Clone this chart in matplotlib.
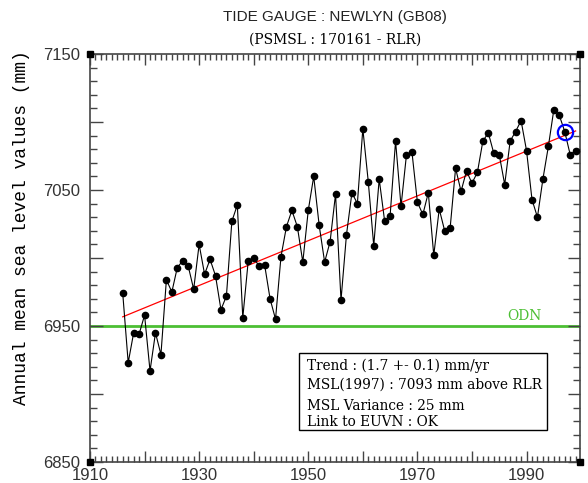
# Newlyn tide gauge, annual mean sea level (PSMSL RLR)

import numpy as np
import matplotlib.pyplot as plt
from matplotlib.patches import Rectangle
from matplotlib.ticker import MultipleLocator, FuncFormatter

years = np.arange(1916, 2000)
msl = [6974, 6923, 6945, 6944, 6958, 6917, 6945, 6929, 6984, 6975,
       6993, 6998, 6994, 6977, 7010, 6988, 6999, 6987, 6962, 6972,
       7027, 7039, 6956, 6998, 7000, 6994, 6995, 6970, 6955, 7001,
       7023, 7035, 7023, 6997, 7035, 7060, 7024, 6997, 7012, 7047,
       6969, 7017, 7048, 7040, 7095, 7056, 7009, 7058, 7027, 7031,
       7086, 7038, 7076, 7078, 7041, 7032, 7048, 7002, 7036, 7020,
       7022, 7066, 7049, 7064, 7055, 7063, 7086, 7092, 7077, 7076,
       7054, 7086, 7093, 7101, 7079, 7043, 7030, 7058, 7082, 7109,
       7105, 7093, 7076, 7079]
odn = 6950
ref_year = 1997
info = ['Trend : (1.7 +- 0.1) mm/yr',
        'MSL(1997) : 7093 mm above RLR',
        'MSL Variance : 25 mm',
        'Link to EUVN : OK']

axcol = '#444444'
green = '#4cbf33'

fig = plt.figure(figsize=(5.88, 4.83), dpi=100)
ax = fig.add_axes([90/588, 21/483, 490/588, 408/483])

# data + trend
msl = np.array(msl)
p = np.polyfit(years, msl, 1)
ax.axhline(odn, color=green, lw=2, zorder=1)
ax.plot(years, np.polyval(p, years), color='red', lw=0.9, zorder=2)
ax.plot(years, msl, '-', color='black', lw=0.8, zorder=3)
ax.plot(years, msl, 'o', color='black', ms=4.5, zorder=4)
i = list(years).index(ref_year)
ax.plot(years[i], msl[i], 'o', mfc='none', mec='blue', mew=1.6, ms=11, zorder=5)

ax.text(1989.6, odn + 2.5, 'ODN', color=green, family='DejaVu Serif',
        fontsize=10, ha='center', va='bottom')

# info box
ax.add_patch(Rectangle((0.4265, 0.078), 0.506, 0.189, transform=ax.transAxes,
                       fill=False, ec='black', lw=1, zorder=6))
for txt, yy in zip(info, [0.235, 0.189, 0.137, 0.098]):
    ax.text(0.443, yy, txt, transform=ax.transAxes, family='DejaVu Serif',
            fontsize=9.8, va='center', ha='left', zorder=7)

# axes, ticks
ax.set_xlim(1910, 1999.8)
ax.set_ylim(6850, 7150)
ax.xaxis.set_major_locator(MultipleLocator(10))
ax.xaxis.set_minor_locator(MultipleLocator(1))
ax.yaxis.set_major_locator(MultipleLocator(50))
ax.yaxis.set_minor_locator(MultipleLocator(10))
ax.xaxis.set_major_formatter(FuncFormatter(
    lambda v, pos: '%d' % v if round(v) % 20 == 10 else ''))
ax.yaxis.set_major_formatter(FuncFormatter(
    lambda v, pos: '%d' % v if round(v - 6850) % 100 == 0 else ''))
ax.tick_params(axis='x', which='both', direction='in', top=True, colors=axcol,
               labelcolor='#333333', labelsize=12, pad=4)
ax.tick_params(axis='x', which='major', length=8, width=1)
ax.tick_params(axis='x', which='minor', length=4, width=1)
ax.tick_params(axis='y', which='both', direction='in', right=True, colors=axcol,
               labelcolor='#333333', labelsize=12, pad=7)
ax.tick_params(axis='y', which='major', length=9, width=1)
ax.tick_params(axis='y', which='minor', length=5, width=1)
for lab in ax.get_xticklabels() + ax.get_yticklabels():
    lab.set_family('Liberation Sans')
for s in ax.spines.values():
    s.set_color(axcol)
    s.set_linewidth(1.2)

# black squares at the corners
for cx in (0, 1):
    for cy in (0, 1):
        ax.plot(cx, cy, 's', color='black', ms=5, transform=ax.transAxes,
                clip_on=False, zorder=8)

# titles
fig.text(335/588, 1 - 17/483, 'TIDE GAUGE : NEWLYN (GB08)', family='Liberation Sans',
         fontsize=11, color='#222222', ha='center', va='center')
fig.text(335/588, 1 - 40/483, '(PSMSL : 170161 - RLR)', family='DejaVu Serif',
         fontsize=10, ha='center', va='center')
fig.text(22/588, 1 - 228/483, 'Annual mean sea level values (mm)', family='Liberation Mono',
         fontsize=13, rotation=90, ha='center', va='center')

plt.savefig('out.png', dpi=100)
